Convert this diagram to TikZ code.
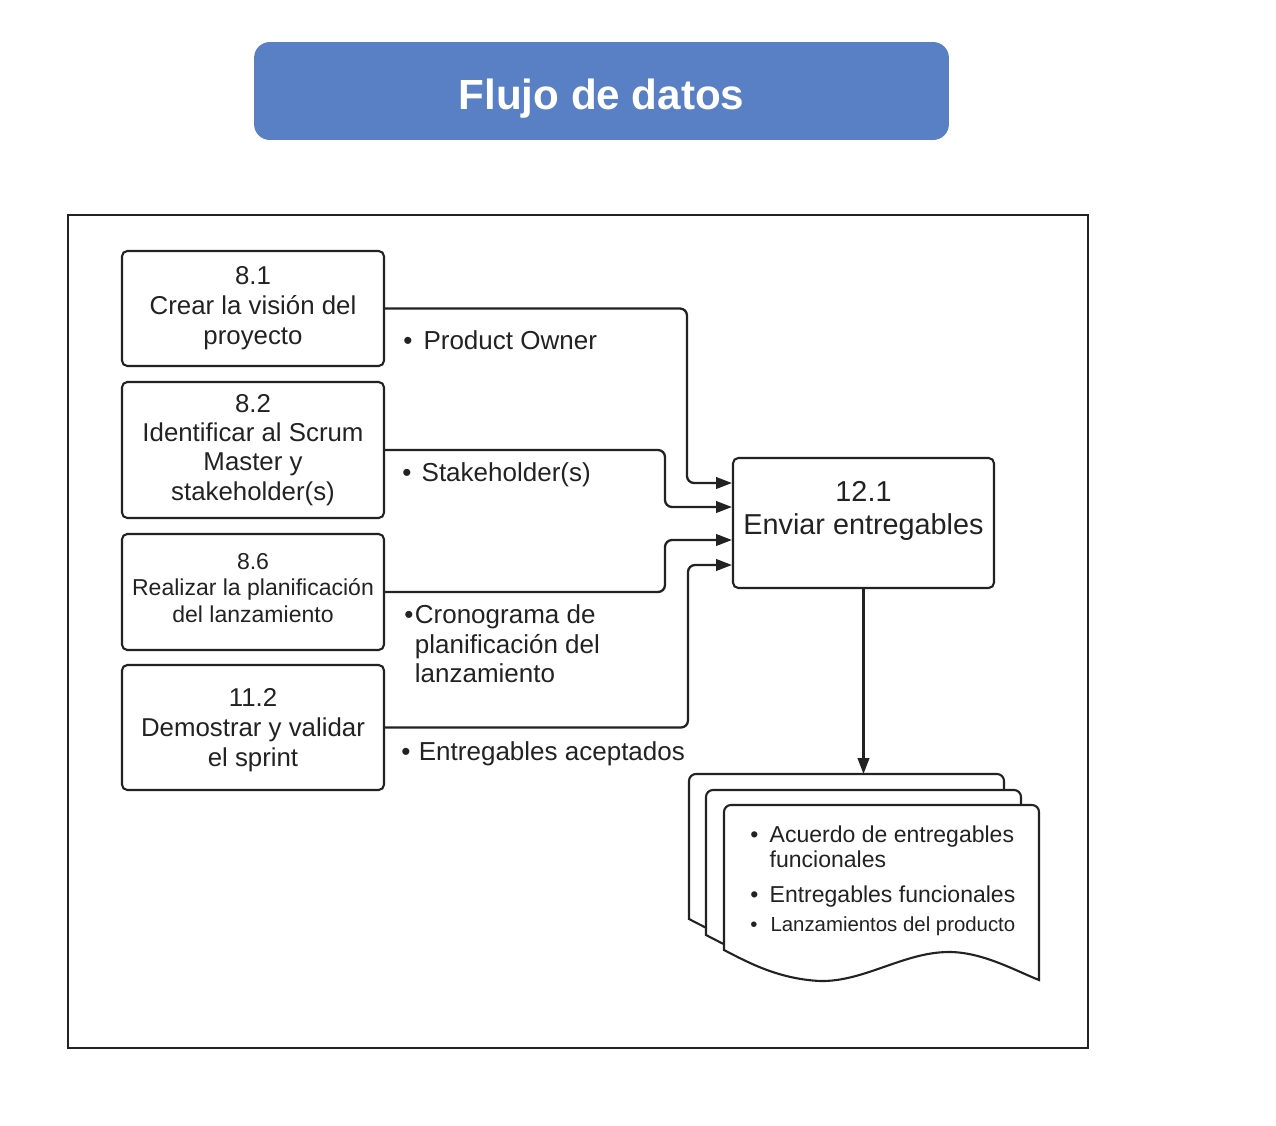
\documentclass[tikz,border=0pt]{standalone}
\usepackage{fontspec}
\setmainfont{Liberation Sans}
\usetikzlibrary{positioning,arrows.meta}
\definecolor{titleblue}{HTML}{5980C5}
\definecolor{ink}{HTML}{222222}
\tikzset{
	procbox/.style={draw=ink, line width=1.2pt, rounded corners=3pt, minimum width=5.24cm, align=center, text=ink, inner sep=2pt},
	flow/.style={draw=ink, line width=1.3pt, rounded corners=4pt, -{Triangle[length=9pt,width=6.5pt]}},
	tag/.style={anchor=north west, inner sep=0pt, align=left, text=ink, font=\fontsize{14.8}{17}\selectfont},
	docitem/.style={anchor=north west, inner sep=0pt, align=left, text=ink, font=\fontsize{13.1}{14.7}\selectfont}
}
\newcommand{\docpage}{\draw[draw=ink, fill=white, line width=1.2pt] (0,145) [rounded corners=4pt] -- (0,0) -- (315,0) [sharp corners] -- (315,175)
					.. controls (290,165) and (258,147) .. (225,147)
					.. controls (180,147) and (140,177) .. (96,176)
					.. controls (55,174) and (25,158) .. (0,145) -- cycle;}
\newcommand{\bul}[2]{\makebox[#1][l]{\textbullet}#2}

\begin{document}
\begin{tikzpicture}[x=0.02cm, y=-0.02cm]

					\useasboundingbox (0,0) rectangle (1276,1126);

					\node[fill=titleblue, rounded corners=9pt, minimum width=13.9cm, minimum height=1.96cm, text=white, text height=20.6pt, text depth=0pt, font=\fontsize{24}{28}\selectfont\bfseries] (title) at (601.5,91) {Flujo de datos};

					\draw[draw=ink, line width=1.5pt] (68,215) rectangle (1088,1048);

					\node[procbox, minimum height=2.3cm, font=\fontsize{14.7}{17}\selectfont] (b81) at (253,308.5) {8.1\\Crear la visión del\\proyecto};
					\node[procbox, minimum height=2.72cm, font=\fontsize{14.7}{16.6}\selectfont] (b82) at (253,450) {8.2\\Identificar al Scrum\\Master y\\stakeholder(s)};
					\node[procbox, minimum height=2.32cm, font=\fontsize{13.1}{15}\selectfont] (b86) at (253,592) {};
					\node[text=ink, align=center, font=\fontsize{13.1}{15}\selectfont] (t86) at (253,588) {8.6\\Realizar la planificación\\del lanzamiento};
					\node[procbox, minimum height=2.5cm, font=\fontsize{14.7}{17}\selectfont] (b112) at (253,727.5) {};
					\node[text=ink, align=center, font=\fontsize{14.7}{17}\selectfont] (t112) at (253,730.5) {11.2\\Demostrar y validar\\el sprint};

					\node[procbox, minimum width=5.22cm, minimum height=2.6cm] (b121) at (863.5,523) {};
					\node[text=ink, align=center, font=\fontsize{16.4}{18.7}\selectfont] (t121) at (863.5,511) {12.1\\Enviar entregables};

					\draw[flow] (b81.east) -| ([xshift=-0.9cm,yshift=0.8cm]b121.west) -- ([yshift=0.8cm]b121.west);
					\draw[flow] (b82.east) -| ([xshift=-1.34cm,yshift=0.32cm]b121.west) -- ([yshift=0.32cm]b121.west);
					\draw[flow] (b86.east) -| ([xshift=-1.34cm,yshift=-0.34cm]b121.west) -- ([yshift=-0.34cm]b121.west);
					\draw[flow] (b112.east) -| ([xshift=-0.88cm,yshift=-0.84cm]b121.west) -- ([yshift=-0.84cm]b121.west);

					\node[tag] (owner) at (403,330) {\bul{11.5pt}{Product Owner}};
					\node[tag] (stake) at (402,462) {\bul{11pt}{Stakeholder(s)}};
					\node[tag] (crono) at (404,604) {\bul{6pt}{Cronograma de}\\\hspace*{6pt}planificación del\\\hspace*{6pt}lanzamiento};
					\node[tag] (acept) at (401,741) {\bul{10pt}{Entregables aceptados}};

					\begin{scope}[shift={(689,774)}]
						\docpage
					\end{scope}

					\begin{scope}[shift={(706,790)}]
						\docpage
					\end{scope}

					\begin{scope}[shift={(724,805)}]
						\docpage
					\end{scope}

					\coordinate (doctop) at (863.5,774);
					\draw[flow] (b121.south) -- (doctop);

					\node[docitem] (out1) at (750,825) {\bul{11pt}{Acuerdo de entregables}\\\hspace*{11pt}funcionales};
					\node[docitem] (out2) at (750,885) {\bul{11pt}{Entregables funcionales}};
					\node[docitem, font=\fontsize{11.6}{13}\selectfont] (out3) at (750,916) {\bul{11.5pt}{Lanzamientos del producto}};

\end{tikzpicture}
\end{document}
